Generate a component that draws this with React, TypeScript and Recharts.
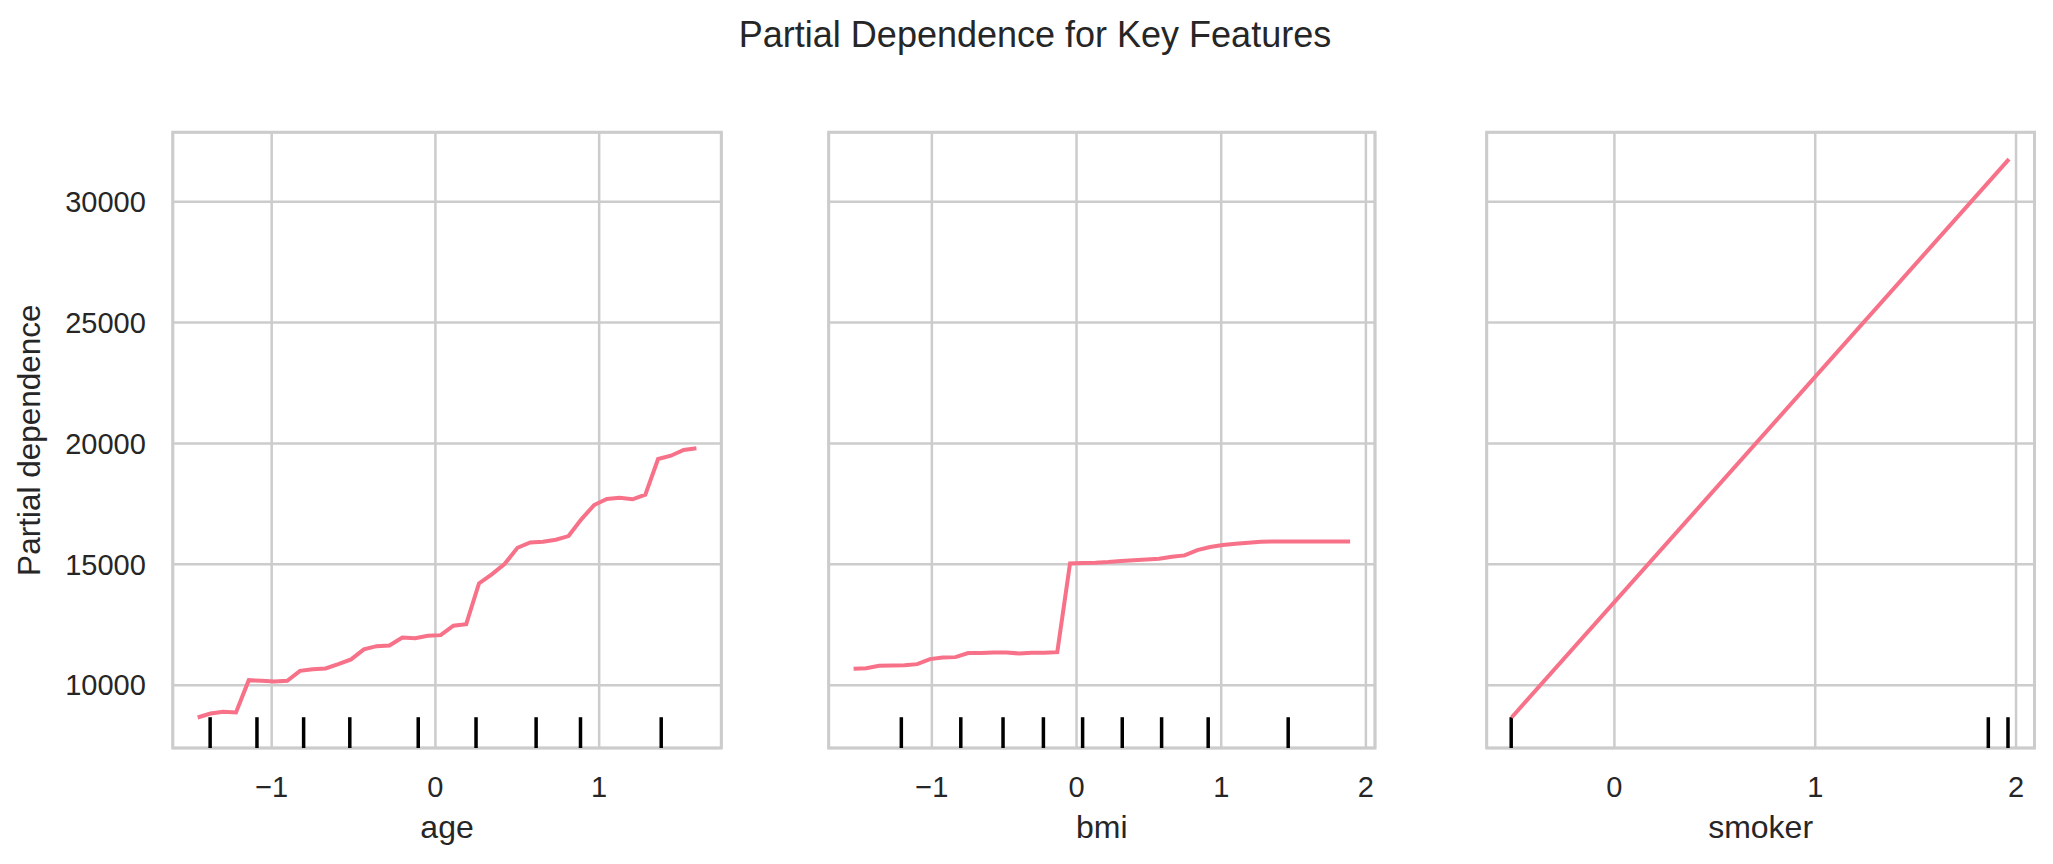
import React from "react";
import { LineChart, Line, XAxis, YAxis, CartesianGrid, ReferenceLine, ReferenceArea } from "recharts";

// partial dependence curves
const ageX = [
    -1.452, -1.374, -1.296, -1.218, -1.14, -1.062, -0.983, -0.905, -0.827, -0.749,
    -0.671, -0.593, -0.515, -0.437, -0.359, -0.281, -0.202, -0.124, -0.046, 0.032,
    0.11, 0.188, 0.266, 0.344, 0.422, 0.501, 0.579, 0.657, 0.735, 0.813,
    0.891, 0.969, 1.047, 1.125, 1.204, 1.282, 1.36, 1.438, 1.516, 1.594,
];
const agePd = [
    8663, 8828, 8895, 8870, 10207, 10178, 10153, 10178, 10592, 10662,
    10691, 10869, 11064, 11478, 11614, 11643, 11974, 11945, 12040, 12069,
    12460, 12525, 14209, 14582, 15008, 15683, 15906, 15931, 16014, 16167,
    16858, 17450, 17699, 17753, 17687, 17877, 19354, 19491, 19727, 19797,
];
const ageDeciles = [-1.376, -1.09, -0.805, -0.523, -0.105, 0.248, 0.615, 0.886, 1.379];

const bmiX = [
    -1.541, -1.453, -1.365, -1.277, -1.189, -1.101, -1.013, -0.925, -0.837, -0.749,
    -0.661, -0.573, -0.485, -0.397, -0.309, -0.221, -0.133, -0.045, 0.043, 0.131,
    0.219, 0.307, 0.395, 0.483, 0.571, 0.659, 0.747, 0.835, 0.923, 1.011,
    1.099, 1.187, 1.275, 1.363, 1.451, 1.539, 1.627, 1.715, 1.803, 1.891,
];
const bmiPd = [
    10675, 10703, 10800, 10815, 10828, 10869, 11076, 11145, 11159, 11325,
    11325, 11352, 11352, 11311, 11338, 11338, 11366, 15037, 15050, 15064,
    15091, 15132, 15165, 15195, 15225, 15312, 15367, 15588, 15712, 15795,
    15850, 15891, 15933, 15940, 15940, 15940, 15938, 15938, 15938, 15938,
];
const bmiDeciles = [-1.211, -0.8, -0.508, -0.229, 0.042, 0.316, 0.588, 0.91, 1.463];

const smokerX = [-0.512, 1.965];
const smokerPd = [8663, 31759];
const smokerDeciles = [-0.514, 1.862, 1.96];

const yTicks = [10000, 15000, 20000, 25000, 30000];
const ageTicks = [-1, 0, 1];
const bmiTicks = [-1, 0, 1, 2];
const smokerTicks = [0, 1, 2];

const Y_DOMAIN: [number, number] = [7400, 32870];
const FONT = '"Liberation Sans", Arial, sans-serif';
const TEXT = "#262626";
const GRID = "#cccccc";
const LINE = "#f77189";

const fmt = (v: number) => (v < 0 ? `\u2212${Math.abs(v)}` : `${v}`);

type PanelProps = {
    left: number;
    width: number;
    marginLeft: number;
    marginRight: number;
    xs: number[];
    ys: number[];
    deciles: number[];
    xDomain: [number, number];
    xTicks: number[];
    label: string;
    showY?: boolean;
};

const Panel = ({ left, width, marginLeft, marginRight, xs, ys, deciles, xDomain, xTicks, label, showY }: PanelProps) => {
    const data = xs.map((x, i) => ({ x, pd: ys[i] }));
    const rugTop = Y_DOMAIN[0] + 0.05 * (Y_DOMAIN[1] - Y_DOMAIN[0]);
    return (
        <div style={{ position: "absolute", left, top: 0 }}>
            <LineChart
                width={width}
                height={864}
                data={data}
                margin={{ top: 132.3, right: marginRight, left: marginLeft, bottom: 0 }}
            >
                <CartesianGrid stroke={GRID} strokeWidth={2.5} />
                <XAxis
                    dataKey="x"
                    type="number"
                    domain={xDomain}
                    ticks={xTicks}
                    allowDataOverflow
                    interval={0}
                    tickFormatter={fmt}
                    axisLine={false}
                    tickLine={false}
                    tickSize={0}
                    tickMargin={28}
                    height={116}
                    tick={{ fill: TEXT, fontSize: 29, fontFamily: FONT }}
                    label={{ value: label, position: "insideBottom", offset: 26, fill: TEXT, fontSize: 32, fontFamily: FONT }}
                />
                <YAxis
                    type="number"
                    domain={Y_DOMAIN}
                    ticks={yTicks}
                    allowDataOverflow
                    interval={0}
                    hide={!showY}
                    width={showY ? 172.8 : 0}
                    axisLine={false}
                    tickLine={false}
                    tickSize={0}
                    tickMargin={27}
                    tick={{ fill: TEXT, fontSize: 29, fontFamily: FONT }}
                    label={
                        showY
                            ? {
                                  value: "Partial dependence",
                                  angle: -90,
                                  position: "insideLeft",
                                  offset: 29,
                                  textAnchor: "middle",
                                  style: { textAnchor: "middle" },
                                  fill: TEXT,
                                  fontSize: 31.5,
                                  fontFamily: FONT,
                              }
                            : undefined
                    }
                />
                <ReferenceArea
                    x1={xDomain[0]}
                    x2={xDomain[1]}
                    y1={Y_DOMAIN[0]}
                    y2={Y_DOMAIN[1]}
                    fill="none"
                    fillOpacity={0}
                    stroke={GRID}
                    strokeWidth={3}
                />
                {deciles.map((d, i) => (
                    <ReferenceLine
                        key={`rug-${i}`}
                        segment={[{ x: d, y: Y_DOMAIN[0] }, { x: d, y: rugTop }]}
                        stroke="#000000"
                        strokeWidth={3.5}
                    />
                ))}
                <Line type="linear" dataKey="pd" stroke={LINE} strokeWidth={4} dot={false} isAnimationActive={false} />
            </LineChart>
        </div>
    );
};

export default function App() {
    return (
        <div style={{ position: "absolute", left: 0, top: 0, width: 2053, height: 864, background: "#fff", overflow: "hidden" }}>
            <div
                style={{
                    position: "absolute",
                    left: 535,
                    top: 17,
                    width: 1000,
                    textAlign: "center",
                    fontFamily: FONT,
                    fontSize: 36,
                    lineHeight: "36px",
                    color: TEXT,
                }}
            >
                Partial Dependence for Key Features
            </div>
            <Panel left={0} width={740} marginLeft={0} marginRight={18.7} xs={ageX} ys={agePd} deciles={ageDeciles}
                xDomain={[-1.604, 1.746]} xTicks={ageTicks} label="age" showY />
            <Panel left={760} width={640} marginLeft={68.7} marginRight={25} xs={bmiX} ys={bmiPd} deciles={bmiDeciles}
                xDomain={[-1.713, 2.063]} xTicks={bmiTicks} label="bmi" />
            <Panel left={1420} width={633} marginLeft={66.7} marginRight={18.5} xs={smokerX} ys={smokerPd} deciles={smokerDeciles}
                xDomain={[-0.636, 2.092]} xTicks={smokerTicks} label="smoker" />
        </div>
    );
}
